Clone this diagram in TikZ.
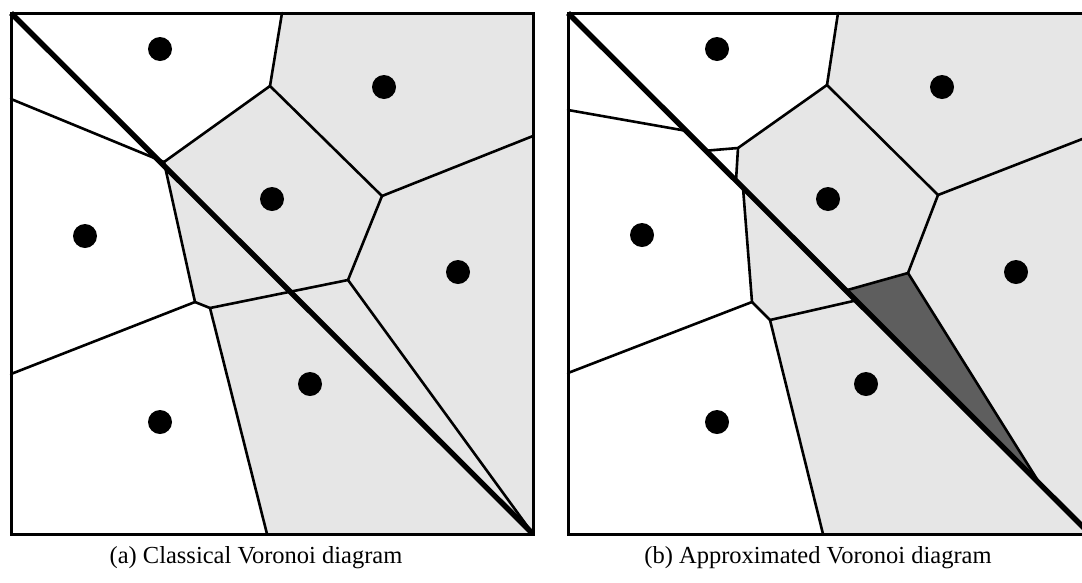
\documentclass[tikz,border=0pt]{standalone}
\usepackage{fontspec}
\setmainfont{Liberation Serif}
\definecolor{cellgray}{HTML}{E6E6E6}
\definecolor{darkcell}{HTML}{5E5E5E}
\tikzset{
  frame/.style={line width=3pt, line join=miter},
  vedge/.style={line width=2.6pt, line join=round, line cap=round},
  diag/.style={line width=5.4pt, line cap=butt},
  site/.style={circle, fill=black, draw=none, inner sep=0pt, minimum size=24pt},
  shade/.style={fill=cellgray, draw=none},
  dark/.style={fill=darkcell, draw=black, line width=2.6pt, line join=round},
  caption/.style={font=\fontsize{24.5}{28}\selectfont, inner sep=0pt, anchor=center}
}
\begin{document}
\begin{tikzpicture}[x=1pt,y=-1pt]
\useasboundingbox (0,0) rectangle (1082,582);
\clip (0,0) rectangle (1082,582);

% ---------------- left panel: classical ----------------
\coordinate (aTL) at (11,13);
\coordinate (aTR) at (533,13);
\coordinate (aBR) at (533,534);
\coordinate (aBL) at (11,534);
\coordinate (aA) at (270,86);
\coordinate (aAt) at (282,13);
\coordinate (aB) at (164,162);
\coordinate (aC) at (382,196);
\coordinate (aCr) at (533,136);
\coordinate (aD) at (348,280);
\coordinate (aE) at (210,308);
\coordinate (aF) at (195,302);
\coordinate (aFl) at (11,374);
\coordinate (aEb) at (267,534);
\coordinate (aLl) at (11,99);

\path[shade] (aAt) -- (aTR) -- (aBR) -- (aEb) -- (aE) -- (aF) -- (aB) -- (aA) -- cycle;

\draw[vedge] (aAt) -- (aA) -- (aC) -- (aCr);
\draw[vedge] (aA) -- (aB);
\draw[vedge] (aLl) -- (aB) -- (aF) -- (aFl);
\draw[vedge] (aF) -- (aE) -- (aEb);
\draw[vedge] (aE) -- (aD) -- (aC);
\draw[vedge] (aD) -- (aBR);
\draw[diag] (aTL) -- (aBR);
\draw[frame] (aTL) rectangle (aBR);

\node[site] (as1) at (160,49) {};
\node[site] (as2) at (384,87) {};
\node[site] (as3) at (272,199) {};
\node[site] (as4) at (85,236) {};
\node[site] (as5) at (458,272) {};
\node[site] (as6) at (310,384) {};
\node[site] (as7) at (160,422) {};

\node[caption] (capa) at (256,558) {(a) Classical Voronoi diagram};

% ---------------- right panel: approximated ----------------
\coordinate (bTL) at (568,13);
\coordinate (bTR) at (1090,13);
\coordinate (bBR) at (1090,534);
\coordinate (bA) at (827,85);
\coordinate (bAt) at (838,13);
\coordinate (bC) at (938,195);
\coordinate (bCr) at (1090,136);
\coordinate (bD) at (908,273);
\coordinate (bG) at (738,148);
\coordinate (bH) at (706,150.7);
\coordinate (bI) at (736,180.7);
\coordinate (bI2) at (743,187.7);
\coordinate (bF) at (752,302);
\coordinate (bE) at (770,320);
\coordinate (bFl) at (568,373);
\coordinate (bEb) at (823,534);
\coordinate (bLl) at (568,110);
\coordinate (bLd) at (686,130.8);
\coordinate (bJ) at (856,300.4);
\coordinate (bK) at (846,290.4);
\coordinate (bP) at (1040,484);

\path[shade] (bAt) -- (bTR) -- (bBR) -- (bEb) -- (bE) -- (bF) -- (bI2) -- (bI) -- (bG) -- (bA) -- cycle;
\path[dark] (bK) -- (bD) -- (bP) -- cycle;

\draw[vedge] (bAt) -- (bA) -- (bC) -- (bCr);
\draw[vedge] (bA) -- (bG) -- (bH);
\draw[vedge] (bG) -- (bI);
\draw[vedge] (bLl) -- (bLd);
\draw[vedge] (bI2) -- (bF) -- (bFl);
\draw[vedge] (bF) -- (bE) -- (bEb);
\draw[vedge] (bE) -- (bJ);
\draw[vedge] (bC) -- (bD);
\draw[diag] (bTL) -- (bBR);
\draw[frame] (bTL) rectangle (bBR);

\node[site] (bs1) at (717,49) {};
\node[site] (bs2) at (942,87) {};
\node[site] (bs3) at (828,199) {};
\node[site] (bs4) at (642,235) {};
\node[site] (bs5) at (1016,272) {};
\node[site] (bs6) at (866,384) {};
\node[site] (bs7) at (717,422) {};

\node[caption] (capb) at (818,558) {(b) Approximated Voronoi diagram};
\end{tikzpicture}
\end{document}
